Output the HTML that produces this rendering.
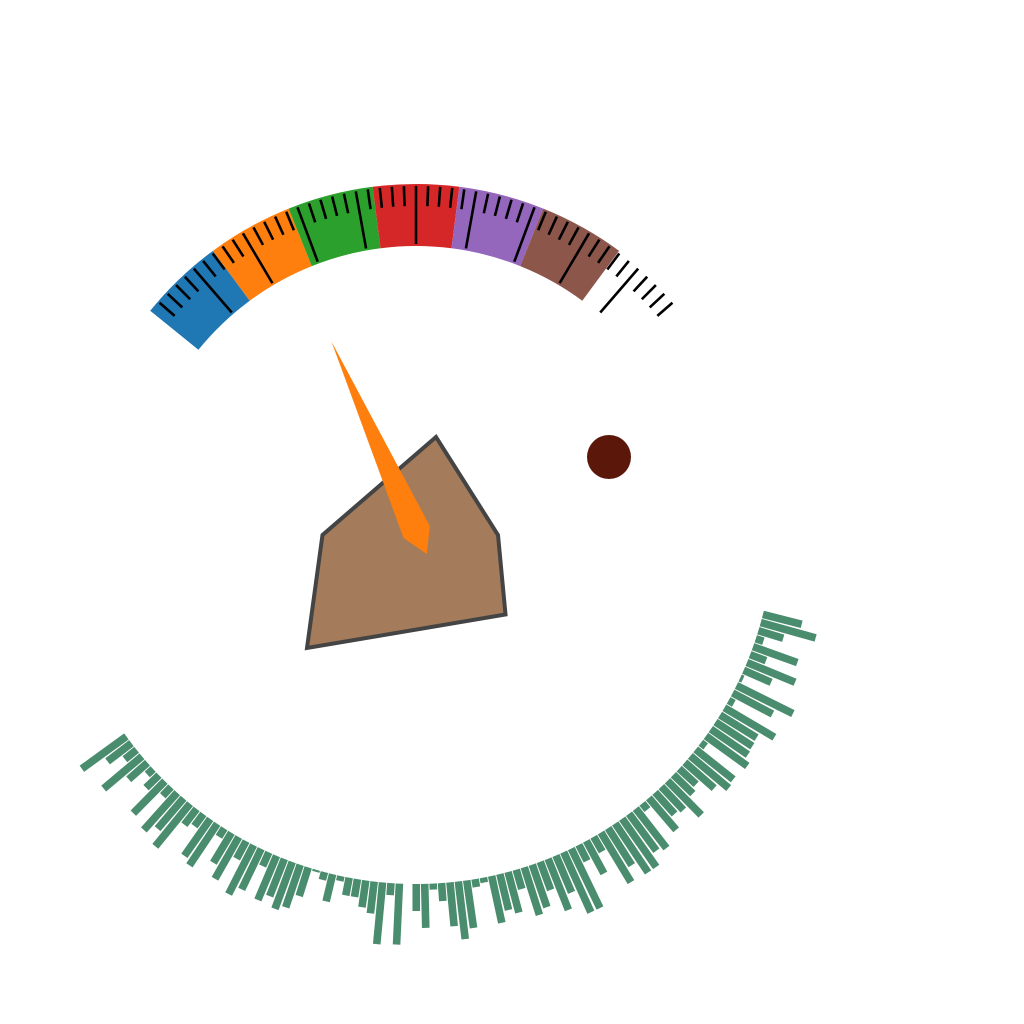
<!DOCTYPE html>
<html><head><meta charset="utf-8"><style>html,body{margin:0;padding:0;background:#fff;}svg{display:block;}</style></head>
<body>
<svg id="chart" width="1024" height="1024" viewBox="0 0 1024 1024" xmlns="http://www.w3.org/2000/svg">
<rect x="0" y="0" width="1024" height="1024" fill="#fff"/>
<g id="bars"></g>
<g id="segs"></g>
<g id="ticks"></g>
<polygon points="322.5,535 436,437 498,535 505.5,614.5 307,648" fill="#a47c5b" stroke="#444" stroke-width="4" stroke-linejoin="miter"/>
<polygon points="331.5,341.6 403.6,538 426.8,554 429.8,526" fill="#ff7f0e"/>
<circle cx="609" cy="457" r="22" fill="#5c170b"/>
</svg>
<script>
const segmentColors = ["#1f77b4","#ff7f0e","#2ca02c","#d62728","#9467bd","#8c564b",null];
const gaugeMin = -51, gaugeMax = 51;
const tickValues = [];
for (let i=-24;i<=24;i++) tickValues.push(i*2.04);
const barValues = [40,57,26,8,47,17,52,30,3,63,45,6,58,43,44,45,51,6,48,50,39,23,27,48,32,29,42,8,
50,46,59,59,44,58,17,37,18,66,66,40,55,30,45,50,20,42,37,48,5,8,48,58,44,18,6,44,27,
0,
61,12,62,32,27,18,18,5,28,8,2,30,45,50,40,48,15,45,55,20,48,35,10,50,45,15,20,55,40,50,12,45,18,8,25,50,15,30,55];

const NS="http://www.w3.org/2000/svg";
const cx=416, cy=526;
function gaugeAngle(v){ return -51 + (v-gaugeMin)/(gaugeMax-gaugeMin)*102; }
function pt(angDeg, r){ const a=angDeg*Math.PI/180; return [cx + r*Math.sin(a), cy - r*Math.cos(a)]; }

const segG=document.getElementById('segs');
const rOut=342, rIn=280;
const segW=(gaugeMax-gaugeMin)/segmentColors.length;
segmentColors.forEach((c,i)=>{
  if(!c) return;
  const a0=gaugeAngle(gaugeMin+i*segW), a1=gaugeAngle(gaugeMin+(i+1)*segW);
  const p0=pt(a0,rOut),p1=pt(a1,rOut),p2=pt(a1,rIn),p3=pt(a0,rIn);
  const p=document.createElementNS(NS,'path');
  p.setAttribute('d',`M${p0} A${rOut},${rOut} 0 0 1 ${p1} L${p2} A${rIn},${rIn} 0 0 0 ${p3} Z`);
  p.setAttribute('fill',c);
  
  
  segG.appendChild(p);
});

const tickG=document.getElementById('ticks');
tickValues.forEach((v,i)=>{
  const major = (i-24)%5===0;
  const a=gaugeAngle(v);
  const p0=pt(a,340), p1=pt(a, major?282:320);
  const l=document.createElementNS(NS,'line');
  l.setAttribute('x1',p0[0]);l.setAttribute('y1',p0[1]);
  l.setAttribute('x2',p1[0]);l.setAttribute('y2',p1[1]);
  l.setAttribute('stroke','#000');l.setAttribute('stroke-width','2.6');
  
  
  tickG.appendChild(l);
});

const barG=document.getElementById('bars');
const bStart=14.3, bEnd=144, rBar=358, bw=7.6;
const n=barValues.length;
const pitch=(bEnd-bStart)/(n-1);
barValues.forEach((v,i)=>{
  if(v<=0) return;
  const a=(bStart+i*pitch)*Math.PI/180;
  const ux=Math.cos(a), uy=Math.sin(a), px=-uy, py=ux;
  const r0=rBar, r1=rBar+v;
  const pts=[[cx+ux*r0+px*bw/2, cy+uy*r0+py*bw/2],[cx+ux*r1+px*bw/2, cy+uy*r1+py*bw/2],
             [cx+ux*r1-px*bw/2, cy+uy*r1-py*bw/2],[cx+ux*r0-px*bw/2, cy+uy*r0-py*bw/2]];
  const p=document.createElementNS(NS,'polygon');
  p.setAttribute('points',pts.map(q=>q[0].toFixed(2)+','+q[1].toFixed(2)).join(' '));
  p.setAttribute('fill','#4a8c6e');
  
  
  barG.appendChild(p);
});
</script>
</body></html>
